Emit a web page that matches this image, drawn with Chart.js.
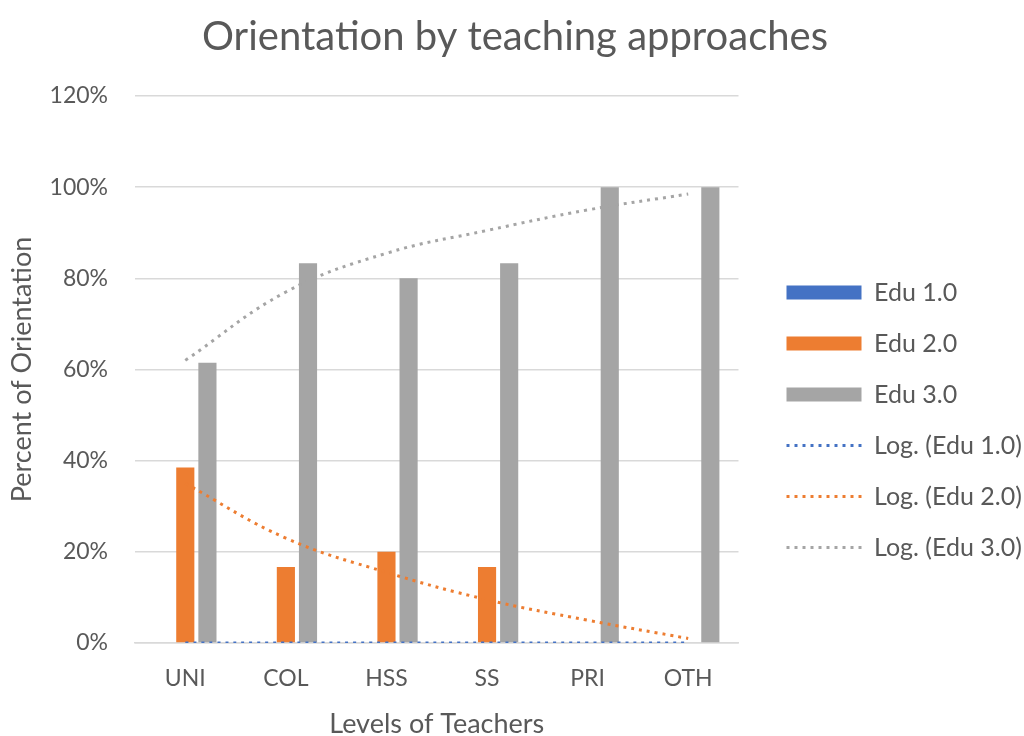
<!DOCTYPE html>
<html>
<head>
<meta charset="utf-8">
<script src="https://cdn.jsdelivr.net/npm/chart.js@4/dist/chart.umd.min.js"></script>
<style>
  html, body { margin: 0; padding: 0; background: #fff; }
  #wrap { width: 1024px; height: 736px; }
</style>
</head>
<body>
<div id="wrap"><canvas id="orientChart" width="1024" height="736"></canvas></div>
<script>
// ---------- DATA ----------
const levels = ["UNI", "COL", "HSS", "SS", "PRI", "OTH"];
const edu1 = [0, 0, 0, 0, 0, 0];
const edu2 = [38.5, 16.7, 20, 16.7, 0, 0];
const edu3 = [61.5, 83.3, 80, 83.3, 100, 100];
// trendline values at each category
const logEdu1 = [0, 0, 0, 0, 0, 0];
const logEdu2 = [35, 23, 15.5, 9.5, 5, 1];
const logEdu3 = [62, 77, 85.5, 90.5, 95, 98.5];

const BLUE = "#4472C4";
const ORANGE = "#ED7D31";
const GREY = "#A5A5A5";
const TEXT = "#595959";
const FONT = "Lato, 'Open Sans', sans-serif";

function barSet(label, data, color) {
  return {
    type: "bar",
    label,
    data,
    backgroundColor: color,
    borderWidth: 0,
    categoryPercentage: 0.66,
    barPercentage: 0.82,
    order: 1
  };
}

function trendSet(label, data, color) {
  return {
    type: "line",
    label,
    data,
    borderColor: color,
    borderWidth: 3,
    borderDash: [3, 5],
    pointRadius: 0,
    tension: 0.4,
    fill: false,
    order: 0
  };
}

const datasets = [
  barSet("Edu 1.0", edu1, BLUE),
  barSet("Edu 2.0", edu2, ORANGE),
  barSet("Edu 3.0", edu3, GREY),
  trendSet("Log. (Edu 1.0)", logEdu1, BLUE),
  trendSet("Log. (Edu 2.0)", logEdu2, ORANGE),
  trendSet("Log. (Edu 3.0)", logEdu3, GREY)
];

// widen the legend box and push its entries right/down
const LEGEND_EXTRA = 31;
const LEGEND_SHIFT_X = 22;
const LEGEND_SHIFT_Y = 52;
const legendGap = {
  id: "legendGap",
  afterInit(chart) {
    const lg = chart.legend;
    const fit = lg.fit;
    lg.fit = function () {
      fit.call(this);
      this.width += LEGEND_EXTRA;
    };
  },
  afterLayout(chart) {
    const lg = chart.legend;
    lg.left += LEGEND_SHIFT_X;
    lg.top += LEGEND_SHIFT_Y;
    lg.bottom += LEGEND_SHIFT_Y;
  }
};

new Chart(document.getElementById("orientChart"), {
  data: { labels: levels, datasets },
  plugins: [legendGap],
  options: {
    responsive: false,
    animation: false,
    layout: { padding: { top: 0, right: 0, bottom: 0, left: 6 } },
    plugins: {
      tooltip: { enabled: false },
      title: {
        display: true,
        text: "Orientation by teaching approaches",
        color: TEXT,
        font: { family: FONT, size: 40, weight: "normal" },
        padding: { top: 13, bottom: 35 }
      },
      legend: {
        position: "right",
        labels: {
          color: TEXT,
          font: { family: FONT, size: 25 },
          usePointStyle: true,
          pointStyleWidth: 75,
          boxHeight: 14,
          padding: 26,
          generateLabels(chart) {
            return chart.data.datasets.map((ds, i) => {
              const isLine = ds.type === "line";
              return {
                text: ds.label,
                datasetIndex: i,
                fillStyle: isLine ? "rgba(0,0,0,0)" : ds.backgroundColor,
                strokeStyle: isLine ? ds.borderColor : ds.backgroundColor,
                lineWidth: isLine ? 3 : 0,
                lineDash: isLine ? [3, 5] : [],
                pointStyle: isLine ? "line" : "rect",
                fontColor: TEXT,
                hidden: false
              };
            });
          }
        }
      }
    },
    scales: {
      x: {
        afterFit: s => { s.height = 93; },
        grid: { display: false },
        border: { color: "#d9d9d9", width: 1.5 },
        ticks: { color: TEXT, font: { family: FONT, size: 23 }, padding: 14 },
        title: {
          display: true,
          text: "Levels of Teachers",
          color: TEXT,
          font: { family: FONT, size: 27 },
          padding: { top: 0, bottom: -4 }
        }
      },
      y: {
        afterFit: s => { s.width = 129; },
        min: 0,
        max: 120,
        grid: { color: "#d9d9d9", lineWidth: 1.5, drawTicks: false },
        border: { display: false },
        ticks: {
          stepSize: 20,
          color: TEXT,
          font: { family: FONT, size: 23 },
          padding: 27,
          callback: v => v + "%"
        },
        title: {
          display: true,
          text: "Percent of Orientation",
          color: TEXT,
          font: { family: FONT, size: 27 },
          padding: { top: 0, bottom: 0 }
        }
      }
    }
  }
});
</script>
</body>
</html>
